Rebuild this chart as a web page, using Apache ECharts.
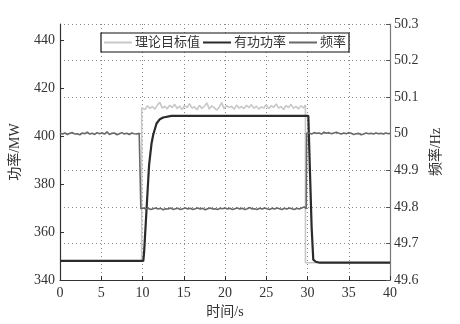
<!DOCTYPE html>
<html><head><meta charset="utf-8">
<script src="https://cdn.jsdelivr.net/npm/echarts@6/dist/echarts.min.js"></script>
<style>html,body{margin:0;padding:0;background:#fff}#c{width:460px;height:324px}</style>
</head><body><div id="c"></div>
<script>
var seriesNames = ['理论目标值', '有功功率', '频率'];
var xTicks = [0, 5, 10, 15, 20, 25, 30, 35, 40];
var powerTicks = [340, 360, 380, 400, 420, 440];
var freqTicks = [49.6, 49.7, 49.8, 49.9, 50, 50.1, 50.2, 50.3];

var targetData = [
[0,348],[9.9,348],[9.9,411.8],[10.3,411.0],[10.6,412.6],[10.9,411.5],[11.2,412.3],[11.5,411.2],[11.8,412.9],[12.1,414.0],
[12.4,411.6],[12.7,412.4],[13.0,411.3],[13.3,412.8],[13.6,411.9],[13.9,413.2],[14.2,411.4],[14.5,412.5],[14.8,411.0],
[15.1,412.7],[15.4,411.8],[15.7,413.5],[16.0,411.6],[16.3,412.2],[16.6,410.9],[16.9,412.8],[17.2,411.5],[17.5,412.4],
[17.8,413.8],[18.1,411.2],[18.4,412.6],[18.7,411.7],[19.0,410.8],[19.3,412.0],[19.6,413.9],[19.9,411.3],[20.2,412.7],
[20.5,411.9],[20.8,412.4],[21.1,411.1],[21.4,412.9],[21.7,411.6],[22.0,412.3],[22.3,411.4],[22.6,412.8],[22.9,411.8],
[23.2,413.1],[23.5,411.5],[23.8,412.5],[24.1,411.2],[24.4,412.1],[24.7,411.7],[25.0,413.0],[25.3,411.4],[25.6,412.6],
[25.9,411.9],[26.2,413.4],[26.5,411.6],[26.8,412.3],[27.1,411.0],[27.4,412.7],[27.7,411.8],[28.0,413.2],[28.3,411.5],
[28.6,412.4],[28.9,411.3],[29.2,412.6],[29.5,411.7],[29.75,412.9],[29.75,347.2],[40,347.2]
];

var powerData = [
[0,348],[10.1,348],[10.2,351.8],[10.5,370],[10.8,388],[11.1,397],[11.3,400.5],[11.7,405.2],[12.1,407],[12.5,407.7],
[13.5,408.4],[30.1,408.4],[30.3,385],[30.5,362],[30.7,348.5],[31.0,347.6],[31.5,347.2],[40,347.2]
];

var freqData = [
[0,50.001],[0.3,49.999],[0.6,50.002],[0.9,49.998],[1.2,50.001],[1.5,50.003],[1.8,49.999],[2.1,50.000],[2.4,49.997],
[2.7,50.002],[3.0,50.000],[3.3,50.004],[3.6,49.999],[3.9,50.001],[4.2,49.998],[4.5,50.003],[4.8,50.000],[5.1,50.002],
[5.4,49.999],[5.7,50.005],[6.0,49.998],[6.3,50.001],[6.6,50.002],[6.9,49.997],[7.2,50.000],[7.5,50.003],[7.8,49.999],
[8.1,50.001],[8.4,49.998],[8.7,50.002],[9.0,50.000],[9.3,49.999],[9.6,50.001],[9.75,50.000],
[9.8,49.795],[10.1,49.797],[10.4,49.794],[10.7,49.796],[11.0,49.793],[11.3,49.795],[11.6,49.797],[11.9,49.794],
[12.2,49.796],[12.5,49.792],[12.8,49.795],[13.1,49.794],[13.4,49.797],[13.7,49.793],[14.0,49.795],[14.3,49.796],
[14.6,49.793],[14.9,49.795],[15.2,49.797],[15.5,49.794],[15.8,49.796],[16.1,49.793],[16.4,49.795],[16.7,49.797],
[17.0,49.794],[17.3,49.796],[17.6,49.792],[17.9,49.795],[18.2,49.797],[18.5,49.794],[18.8,49.795],[19.1,49.793],
[19.4,49.796],[19.7,49.795],[20.0,49.797],[20.3,49.794],[20.6,49.796],[20.9,49.793],[21.2,49.795],[21.5,49.797],
[21.8,49.794],[22.1,49.796],[22.4,49.793],[22.7,49.795],[23.0,49.798],[23.3,49.794],[23.6,49.795],[23.9,49.793],
[24.2,49.796],[24.5,49.794],[24.8,49.797],[25.1,49.795],[25.4,49.793],[25.7,49.796],[26.0,49.794],[26.3,49.797],
[26.6,49.795],[26.9,49.793],[27.2,49.796],[27.5,49.794],[27.8,49.797],[28.1,49.795],[28.4,49.793],[28.7,49.796],
[29.0,49.794],[29.3,49.797],[29.6,49.800],[29.85,49.795],
[29.9,50.001],[30.2,50.002],[30.5,49.999],[30.8,50.003],[31.1,50.001],[31.4,50.002],[31.7,49.999],[32.0,50.004],
[32.3,50.001],[32.6,50.003],[32.9,50.000],[33.2,50.002],[33.5,50.004],[33.8,50.001],[34.1,49.999],[34.4,50.002],
[34.7,50.000],[35.0,50.003],[35.3,50.001],[35.6,49.998],[35.9,50.000],[36.2,50.001],[36.5,49.997],[36.8,49.999],
[37.1,50.002],[37.4,50.000],[37.7,50.001],[38.0,49.999],[38.3,50.002],[38.6,50.000],[38.9,50.001],[39.2,49.999],
[39.5,50.002],[39.8,50.000],[40,50.001]
];

var FONT = '"Liberation Serif", "Noto Sans CJK SC", serif';
var chart = echarts.init(document.getElementById('c'), null, {renderer: 'canvas'});
chart.setOption({
  animation: false,
  backgroundColor: '#fff',
  textStyle: {fontFamily: FONT},
  grid: {left: 60, right: 70, top: 24, bottom: 44},
  legend: {
    left: 101, top: 33,
    data: seriesNames,
    icon: 'rect',
    itemWidth: 28, itemHeight: 2, itemGap: 3,
    padding: [3, 3],
    borderColor: '#111', borderWidth: 1.2,
    backgroundColor: '#fff',
    textStyle: {fontFamily: FONT, fontSize: 13, color: '#333', padding: [0, 0, 0, -2]}
  },
  xAxis: {
    type: 'value', min: 0, max: 40, interval: 5,
    name: '时间/s', nameLocation: 'middle', nameGap: 24,
    nameTextStyle: {fontFamily: FONT, fontSize: 14, color: '#333'},
    axisLine: {show: true, lineStyle: {color: '#333', width: 1.2}},
    axisTick: {show: true, inside: true, length: 4, lineStyle: {color: '#333'}, customValues: xTicks},
    axisLabel: {fontFamily: FONT, fontSize: 14, color: '#333', margin: 6, customValues: xTicks},
    splitLine: {show: true, lineStyle: {color: '#888', type: [1, 3], width: 1}}
  },
  yAxis: [{
    type: 'value', min: 340, max: 446.67, interval: 20,
    name: '功率/MW', nameLocation: 'middle', nameGap: 38, nameRotate: 90,
    nameTextStyle: {fontFamily: FONT, fontSize: 14, color: '#333'},
    axisLine: {show: true, lineStyle: {color: '#333', width: 1.2}},
    axisTick: {show: true, inside: true, length: 4, lineStyle: {color: '#333'}, customValues: powerTicks},
    axisLabel: {fontFamily: FONT, fontSize: 14, color: '#333', margin: 5, customValues: powerTicks},
    splitLine: {show: false}
  }, {
    type: 'value', min: 49.6, max: 50.3, interval: 0.1, position: 'right',
    name: '频率/Hz', nameLocation: 'middle', nameGap: 36, nameRotate: 90,
    nameTextStyle: {fontFamily: FONT, fontSize: 14, color: '#333'},
    axisLine: {show: true, lineStyle: {color: '#777', width: 1.2}},
    axisTick: {show: true, inside: true, length: 4, lineStyle: {color: '#555'}, customValues: freqTicks},
    axisLabel: {fontFamily: FONT, fontSize: 14, color: '#333', margin: 4, customValues: freqTicks},
    splitLine: {show: true, lineStyle: {color: '#888', type: [1, 3], width: 1}}
  }],
  series: [{
    name: seriesNames[0], type: 'line', yAxisIndex: 0, data: targetData, symbol: 'none',
    lineStyle: {color: '#c8c8c8', width: 1.6}, itemStyle: {color: '#c8c8c8'}, z: 2
  }, {
    name: seriesNames[1], type: 'line', yAxisIndex: 0, data: powerData, symbol: 'none',
    lineStyle: {color: '#2b2b2b', width: 2.2}, itemStyle: {color: '#2b2b2b'}, z: 3
  }, {
    name: seriesNames[2], type: 'line', yAxisIndex: 1, data: freqData, symbol: 'none',
    lineStyle: {color: '#686868', width: 1.6}, itemStyle: {color: '#686868'}, z: 4
  }]
});
</script></body></html>
